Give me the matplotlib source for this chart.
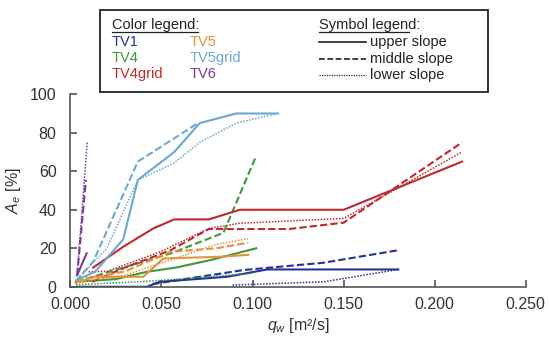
import matplotlib
matplotlib.use('Agg')
import matplotlib.pyplot as plt

plt.rcParams['font.family'] = ['Liberation Sans', 'DejaVu Sans']
plt.rcParams['mathtext.fontset'] = 'custom'
plt.rcParams['mathtext.it'] = 'Liberation Sans:italic'
plt.rcParams['mathtext.rm'] = 'Liberation Sans'

# q_w [m2/s] and A_e [%], per test and slope part
tv1_upper_x = [0.004, 0.042, 0.049, 0.086, 0.108, 0.180]
tv1_upper_y = [0, 0, 2.6, 5.2, 9, 9]
tv1_middle_x = [0.045, 0.095, 0.139, 0.180]
tv1_middle_y = [1.4, 8.7, 12.5, 19]
tv1_lower_x = [0.089, 0.139, 0.180]
tv1_lower_y = [0.9, 2.6, 9]

tv4_upper_x = [0.003, 0.025, 0.042, 0.058, 0.077, 0.102]
tv4_upper_y = [2.6, 4, 7.8, 10, 13.9, 20]
tv4_middle_x = [0.003, 0.055, 0.084, 0.102]
tv4_middle_y = [2.6, 17.3, 28, 68]
tv4_lower_x = [0.003, 0.045, 0.100]
tv4_lower_y = [1, 3, 7]

tv4grid_upper_x = [0.0125, 0.029, 0.0455, 0.057, 0.076, 0.093, 0.150, 0.215]
tv4grid_upper_y = [10, 20.8, 30.3, 35, 35, 40, 40, 65]
tv4grid_middle_x = [0.012, 0.030, 0.055, 0.076, 0.093, 0.120, 0.150, 0.215]
tv4grid_middle_y = [2.6, 10, 19, 30, 30, 30, 33.3, 75]
tv4grid_lower_x = [0.010, 0.020, 0.049, 0.076, 0.093, 0.150, 0.215]
tv4grid_lower_y = [7.8, 8, 18, 30.3, 33, 35.5, 70]

tv5_upper_x = [0.003, 0.0125, 0.040, 0.051, 0.082, 0.0976]
tv5_upper_y = [2, 5.2, 5.2, 14.7, 15.6, 16.6]
tv5_middle_x = [0.003, 0.030, 0.055, 0.080, 0.0976]
tv5_middle_y = [3, 8, 18.2, 20, 22.9]
tv5_lower_x = [0.003, 0.030, 0.055, 0.080, 0.0976]
tv5_lower_y = [2, 6, 14, 22, 25]

tv5grid_upper_x = [0.0034, 0.0135, 0.029, 0.037, 0.057, 0.071, 0.091, 0.114]
tv5grid_upper_y = [3.5, 7.8, 24.6, 55.5, 70, 85, 90, 90]
tv5grid_middle_x = [0.003, 0.0125, 0.037, 0.070]
tv5grid_middle_y = [3, 13, 65, 85]
tv5grid_lower_x = [0.003, 0.020, 0.037, 0.0565, 0.071, 0.091, 0.114]
tv5grid_lower_y = [3, 20, 55.5, 64, 75, 85, 90]

tv6_upper_x = [0.0037, 0.0089]
tv6_upper_y = [6, 17.4]
tv6_middle_x = [0.0037, 0.0085]
tv6_middle_y = [6, 55.5]
tv6_lower_x = [0.0037, 0.0092]
tv6_lower_y = [6, 75]

names = ['TV1', 'TV4', 'TV4grid', 'TV5', 'TV5grid', 'TV6']
colors = ['#24339a', '#3c9a3c', '#c0282d', '#e8913a', '#6aa9d3', '#7a3c9a']
series = [
    [(tv1_upper_x, tv1_upper_y), (tv1_middle_x, tv1_middle_y), (tv1_lower_x, tv1_lower_y)],
    [(tv4_upper_x, tv4_upper_y), (tv4_middle_x, tv4_middle_y), (tv4_lower_x, tv4_lower_y)],
    [(tv4grid_upper_x, tv4grid_upper_y), (tv4grid_middle_x, tv4grid_middle_y), (tv4grid_lower_x, tv4grid_lower_y)],
    [(tv5_upper_x, tv5_upper_y), (tv5_middle_x, tv5_middle_y), (tv5_lower_x, tv5_lower_y)],
    [(tv5grid_upper_x, tv5grid_upper_y), (tv5grid_middle_x, tv5grid_middle_y), (tv5grid_lower_x, tv5grid_lower_y)],
    [(tv6_upper_x, tv6_upper_y), (tv6_middle_x, tv6_middle_y), (tv6_lower_x, tv6_lower_y)],
]
slopes = ['upper slope', 'middle slope', 'lower slope']
styles = ['-', (0, (3.5, 1.5)), (0, (1, 1))]
widths = [1.5, 1.5, 1.1]

fig = plt.figure(figsize=(5.5, 3.39), dpi=100)
ax = fig.add_axes([0.128, 0.154, 0.828, 0.568])

for name, col, parts in zip(names, colors, series):
    for (x, y), ls, lw in zip(parts, styles, widths):
        ax.plot(x, y, color=col, linestyle=ls, linewidth=lw)

ax.set_xlim(0, 0.25)
ax.set_ylim(0, 100)
ax.set_xticks([0, 0.05, 0.1, 0.15, 0.2, 0.25])
ax.set_xticklabels(['0.000', '0.050', '0.100', '0.150', '0.200', '0.250'])
ax.set_yticks([0, 20, 40, 60, 80, 100])
for s in ['top', 'right']:
    ax.spines[s].set_visible(False)
for s in ['left', 'bottom']:
    ax.spines[s].set_color('#555555')
    ax.spines[s].set_linewidth(1.2)
ax.tick_params(direction='in', length=5, width=1.2, color='#555555',
               labelsize=11.5, labelcolor='#333333')
ax.tick_params(axis='x', pad=7)
ax.tick_params(axis='y', pad=10)
ax.set_xlabel(r'$q_w$ [m²/s]', fontsize=11.5, color='#333333', labelpad=3)
ax.set_ylabel(r'$A_e$ [%]', fontsize=11.5, color='#333333', labelpad=5)

# legend box drawn in figure coordinates
W, H = 550, 339
def fx(px):
    return px / W
def fy(py):
    return 1 - py / H

box = plt.Rectangle((fx(100), fy(92)), fx(488) - fx(100), fy(10) - fy(92),
                    transform=fig.transFigure, fill=False, edgecolor='#222222',
                    linewidth=1.3)
fig.add_artist(box)

fs = 10.5
fig.text(fx(112), fy(25), 'Color legend:', fontsize=fs, color='#222222', va='center')
fig.add_artist(plt.Line2D([fx(112), fx(198)], [fy(32), fy(32)],
                          transform=fig.transFigure, color='#222222', linewidth=0.9))
cols_x = [112, 112, 112, 190, 190, 190]
rows_y = [42, 58, 74, 42, 58, 74]
for name, col, px, py in zip(names, colors, cols_x, rows_y):
    fig.text(fx(px), fy(py), name, fontsize=fs, color=col, va='center')

fig.text(fx(319), fy(25), 'Symbol legend:', fontsize=fs, color='#222222', va='center')
fig.add_artist(plt.Line2D([fx(319), fx(409)], [fy(32), fy(32)],
                          transform=fig.transFigure, color='#222222', linewidth=0.9))
for lab, ls, lw, py in zip(slopes, styles, widths, [42, 59, 75]):
    fig.add_artist(plt.Line2D([fx(319), fx(366)], [fy(py), fy(py)],
                              transform=fig.transFigure, color='#222222',
                              linestyle=ls, linewidth=lw * 0.8))
    fig.text(fx(370), fy(py), lab, fontsize=fs, color='#222222', va='center')

fig.savefig('out.png', dpi=100)
